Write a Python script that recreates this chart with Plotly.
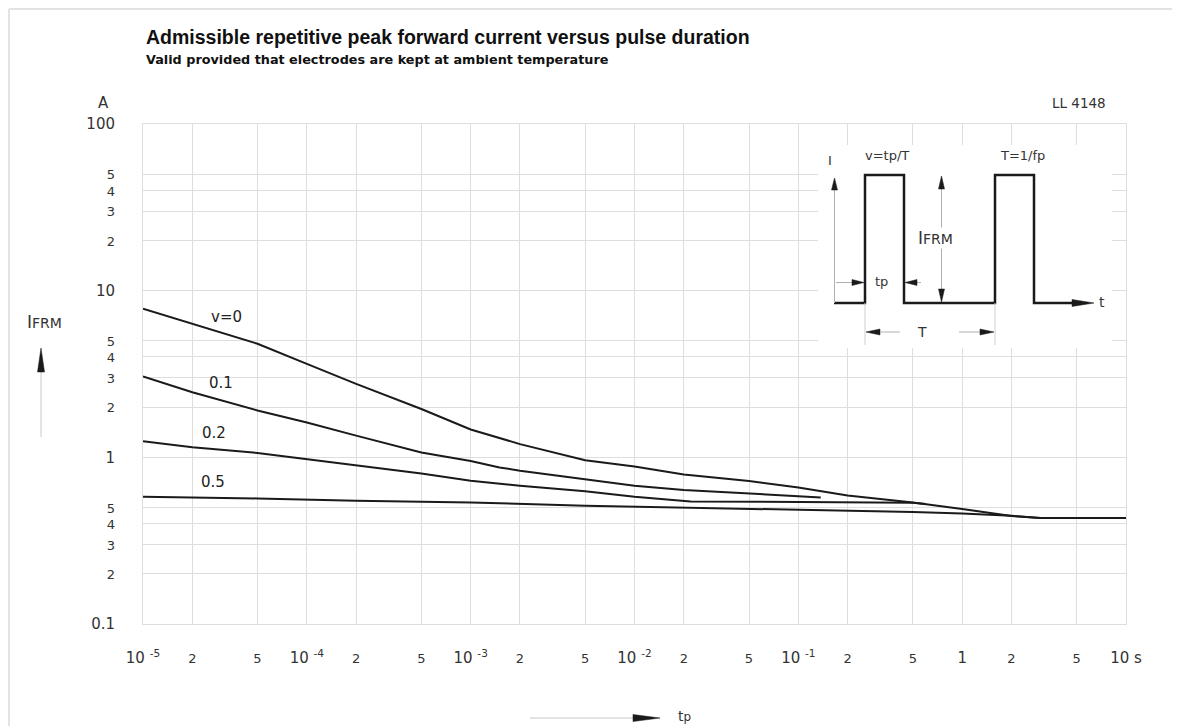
import plotly.graph_objects as go

# ---------------- data ----------------
tp_v0 = [1e-5, 2e-5, 5e-5, 1e-4, 2e-4, 5e-4, 1e-3, 2e-3, 5e-3, 1e-2, 2e-2, 5e-2, 0.1, 0.2, 0.5, 1, 2, 3, 10]
i_v0 = [7.8, 6.3, 4.8, 3.64, 2.76, 1.95, 1.47, 1.2, 0.96, 0.88, 0.79, 0.72, 0.66, 0.59, 0.535, 0.49, 0.445, 0.432, 0.432]

tp_v01 = [1e-5, 2e-5, 5e-5, 1e-4, 2e-4, 5e-4, 1e-3, 1.5e-3, 2e-3, 5e-3, 1e-2, 2e-2, 5e-2, 0.1, 0.137]
i_v01 = [3.06, 2.46, 1.91, 1.62, 1.35, 1.07, 0.95, 0.87, 0.832, 0.741, 0.676, 0.637, 0.608, 0.585, 0.575]

tp_v02 = [1e-5, 2e-5, 5e-5, 1e-4, 2e-4, 5e-4, 1e-3, 2e-3, 5e-3, 1e-2, 2.2e-2, 5e-2, 0.2, 0.5, 0.6]
i_v02 = [1.248, 1.148, 1.062, 0.978, 0.90, 0.801, 0.724, 0.676, 0.625, 0.580, 0.544, 0.541, 0.536, 0.534, 0.525]

tp_v05 = [1e-5, 5e-5, 2e-4, 1e-3, 5e-3, 2e-2, 7.7e-2, 0.2, 0.5, 1, 2, 3, 10]
i_v05 = [0.580, 0.567, 0.549, 0.536, 0.5125, 0.5006, 0.485, 0.478, 0.470, 0.461, 0.446, 0.432, 0.432]

curve_names = ["v=0", "0.1", "0.2", "0.5"]

x_tickvals = [1e-5, 2e-5, 5e-5, 1e-4, 2e-4, 5e-4, 1e-3, 2e-3, 5e-3, 1e-2, 2e-2, 5e-2,
              1e-1, 2e-1, 5e-1, 1, 2, 5, 10]
x_ticktext = ["10 <sup>-5</sup>", "2", "5", "10 <sup>-4</sup>", "2", "5", "10 <sup>-3</sup>", "2", "5",
              "10 <sup>-2</sup>", "2", "5", "10 <sup>-1</sup>", "2", "5", "1", "2", "5", "10 s"]
x_major = ["10 <sup>-5</sup>", "10 <sup>-4</sup>", "10 <sup>-3</sup>", "10 <sup>-2</sup>", "10 <sup>-1</sup>", "1", "10 s"]

y_tickvals = [0.1, 0.2, 0.3, 0.4, 0.5, 1, 2, 3, 4, 5, 10, 20, 30, 40, 50, 100]
y_ticktext = ["0.1", "2", "3", "4", "5", "1", "2", "3", "4", "5", "10", "2", "3", "4", "5", "100"]
y_major = ["0.1", "1", "10", "100"]

# ---------------- layout geometry ----------------
# positions below are given in screen pixels; the page places the figure 8 px in from the corner
OFF = 8
FW, FH = 1180, 726
ML, MR, MT, MB = 135, 62, 116, 110
PW, PH = FW - ML - MR, FH - MT - MB

FONT = "DejaVu Sans, Verdana, sans-serif"
TFONT = "Liberation Sans, Arial, sans-serif"
INK = "#1a1a1a"
TXT = "#333333"
GRID = "#dedede"


def px(x):
    return (x - OFF - ML) / PW


def py(y):
    return (FH - MB - (y - OFF)) / PH


def small(t, size=13):
    return f"<span style='font-size:{size}px'>{t}</span>"


def fmt(labels, majors):
    return [t if t in majors else small(t) for t in labels]


fig = go.Figure()
for xs, ys, name in [(tp_v0, i_v0, curve_names[0]), (tp_v01, i_v01, curve_names[1]),
                     (tp_v02, i_v02, curve_names[2]), (tp_v05, i_v05, curve_names[3])]:
    fig.add_trace(go.Scatter(x=xs, y=ys, mode="lines", name=name,
                             line=dict(color=INK, width=2), hoverinfo="x+y+name"))

shapes = []
annotations = []


def line(x0, y0, x1, y1, color=INK, width=1):
    shapes.append(dict(type="line", xref="paper", yref="paper",
                       x0=px(x0), y0=py(y0), x1=px(x1), y1=py(y1),
                       line=dict(color=color, width=width), layer="above"))


def head(tx, ty, direction, length=12, half=3, color=INK):
    # triangle arrowhead with tip at (tx, ty) in screen pixels
    dx, dy = {"up": (0, 1), "down": (0, -1), "left": (1, 0), "right": (-1, 0)}[direction]
    bx, by = tx + dx * length, ty + dy * length
    ox, oy = dy * half, dx * half
    pts = [(tx, ty), (bx + ox, by + oy), (bx - ox, by - oy)]
    path = "M " + " L ".join(f"{px(a)},{py(b)}" for a, b in pts) + " Z"
    shapes.append(dict(type="path", xref="paper", yref="paper", path=path,
                       fillcolor=color, line=dict(color=color, width=0.5), layer="above"))


def text(x, y, t, size=14, color=TXT, xanchor="center", bold=False, bg=None, family=FONT):
    annotations.append(dict(xref="paper", yref="paper", x=px(x), y=py(y),
                            text=(f"<b>{t}</b>" if bold else t), showarrow=False,
                            xanchor=xanchor, yanchor="middle",
                            font=dict(family=family, size=size, color=color),
                            bgcolor=bg, borderpad=0))


# page frame
line(9, 9, 1180, 9, color="#e2e2e2", width=2)
line(9, 9, 9, 726, color="#e2e2e2", width=2)

# titles and unit labels
text(145, 37, "Admissible repetitive peak forward current versus pulse duration", size=19.5,
     color="#111111", xanchor="left", bold=True, family=TFONT)
text(145, 59, "Valid provided that electrodes are kept at ambient temperature", size=12.8,
     color="#111111", xanchor="left", bold=True, family=FONT)
text(103, 103, "A", size=15)
text(1107, 103, "LL 4148", size=13.5, xanchor="right")

# curve labels
for (lx, ly), name in zip([(226, 317), (221, 383), (214, 433), (213, 482)], curve_names):
    text(lx, ly, name, size=15, color="#222222")

# y-axis quantity label and arrow
text(44, 322, "I" + small("FRM", 14), size=17)
line(41, 437, 41, 360, color="#c8c8c8", width=1)
head(41, 348, "up", length=24, half=3.5)

# x-axis quantity label and arrow
line(530, 718, 640, 718, color="#c8c8c8", width=1)
head(660, 718, "right", length=27, half=3.5)
text(684, 716, "t" + small("p", 12), size=14)

# ---------------- inset pulse diagram ----------------
shapes.append(dict(type="rect", xref="paper", yref="paper", x0=px(818), x1=px(1112),
                   y0=py(348), y1=py(145), fillcolor="white", line=dict(width=0), layer="above"))
wave = [(834, 303), (865, 303), (865, 175), (904, 175), (904, 303), (995, 303),
        (995, 175), (1034, 175), (1034, 303), (1075, 303)]
shapes.append(dict(type="path", xref="paper", yref="paper",
                   path="M " + " L ".join(f"{px(a)},{py(b)}" for a, b in wave),
                   line=dict(color=INK, width=2.5), layer="above"))
head(1094, 303, "right", length=22, half=3.5)
text(1102, 302, "t", size=14)

# current axis
line(834.5, 303, 834.5, 186, color="#b0b0b0", width=1)
head(834.5, 178, "up", length=12, half=3)
text(830, 161, "I", size=13)
text(887, 155, "v=tp/T", size=13)
text(1022, 155, "T=1/fp", size=13)

# IFRM dimension
line(941.5, 177, 941.5, 301, color="#b0b0b0", width=1)
head(941.5, 176, "up", length=13, half=3)
head(941.5, 302, "down", length=13, half=3)
text(935, 238, "I" + small("FRM", 14), size=17, bg="white")

# tp dimension
line(836, 282.5, 852, 282.5, color="#b0b0b0", width=1)
head(864, 282.5, "right", length=12, half=3)
line(921, 282.5, 915, 282.5, color="#b0b0b0", width=1)
head(905, 282.5, "left", length=12, half=3)
text(881, 281, "tp", size=13)

# T dimension
line(865, 303, 865, 345, color="#d0d0d0", width=1)
line(995, 303, 995, 345, color="#d0d0d0", width=1)
head(866, 332, "left", length=14, half=3)
line(880, 332, 900, 332, color="#b0b0b0", width=1)
line(959, 332, 981, 332, color="#b0b0b0", width=1)
head(994, 332, "right", length=14, half=3)
text(922, 332, "T", size=14)

fig.update_layout(
    width=FW, height=FH,
    margin=dict(l=ML, r=MR, t=MT, b=MB, autoexpand=False),
    paper_bgcolor="white", plot_bgcolor="white",
    showlegend=False,
    font=dict(family=FONT, size=15, color=TXT),
    shapes=shapes, annotations=annotations,
    xaxis=dict(type="log", range=[-5, 1], tickmode="array", tickvals=x_tickvals,
               ticktext=fmt(x_ticktext, x_major), showgrid=True, gridcolor=GRID, gridwidth=1,
               showline=True, linecolor=GRID, linewidth=1, mirror=True, ticks="",
               zeroline=False, ticklabelstandoff=20, tickangle=0,
               tickfont=dict(family=FONT, size=15, color=TXT)),
    yaxis=dict(type="log", range=[-1, 2], tickmode="array", tickvals=y_tickvals,
               ticktext=fmt(y_ticktext, y_major), showgrid=True, gridcolor=GRID, gridwidth=1,
               showline=True, linecolor=GRID, linewidth=1, mirror=True, ticks="",
               zeroline=False, ticklabelstandoff=24,
               tickfont=dict(family=FONT, size=15, color=TXT)),
)

fig.write_html("out.html")
